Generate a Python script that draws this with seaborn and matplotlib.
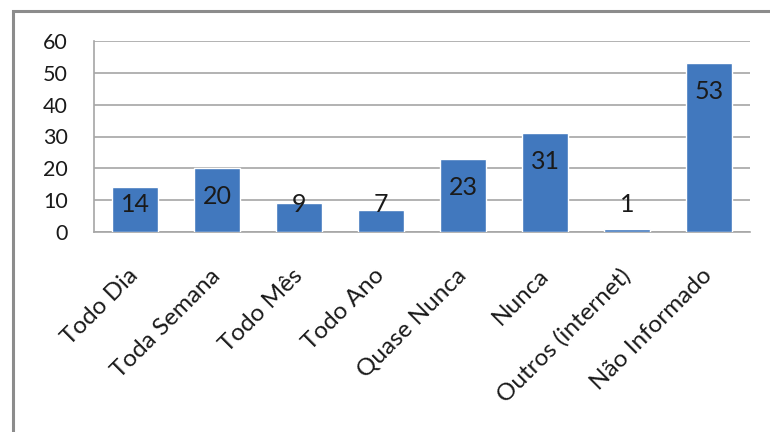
import matplotlib
matplotlib.use("Agg")
import matplotlib.pyplot as plt
import seaborn as sns
import pandas as pd
from matplotlib.patches import Rectangle

categories = ["Todo Dia", "Toda Semana", "Todo Mês", "Todo Ano",
              "Quase Nunca", "Nunca", "Outros (internet)", "Não Informado"]
values = [14, 20, 9, 7, 23, 31, 1, 53]
y_ticks = [0, 10, 20, 30, 40, 50, 60]

sns.set_theme(style="white")
plt.rcParams["font.family"] = ["Lato", "DejaVu Sans"]

df = pd.DataFrame({"categoria": categories, "valor": values})

fig = plt.figure(figsize=(7.7, 4.32), dpi=100)
ax = fig.add_axes([94 / 770, 1 - 232 / 432, (750 - 94) / 770, (232 - 41) / 432])

bar_color = "#4178BE"
sns.barplot(data=df, x="categoria", y="valor", color=bar_color, saturation=1,
            width=0.55, ax=ax, zorder=3)

ax.set_ylim(0, 60)
ax.set_xlim(-0.5, len(categories) - 0.5)
ax.set_yticks(y_ticks)
ax.set_xlabel("")
ax.set_ylabel("")
ax.yaxis.grid(True, color="#A6A6A6", linewidth=1.2, zorder=0)
ax.set_axisbelow(True)
for side in ("top", "right"):
    ax.spines[side].set_visible(False)
for side in ("left", "bottom"):
    ax.spines[side].set_color("#A6A6A6")
    ax.spines[side].set_linewidth(1.2)

text_color = "#1a1a1a"
ax.tick_params(axis="y", length=0, pad=19, labelsize=15.5, labelcolor=text_color)
ax.tick_params(axis="x", length=0, pad=29, labelsize=17.5, labelcolor=text_color)
for lbl in ax.get_xticklabels():
    lbl.set_rotation(45)
    lbl.set_ha("right")
    lbl.set_va("center")
    lbl.set_rotation_mode("anchor")

# value labels sit a little below each bar's top, never lower than the floor
for i, v in enumerate(values):
    ax.text(i, max(v - 9, 8.6), str(v), ha="center", va="center",
            fontsize=18, color=text_color, zorder=4)

# outer chart frame
fig.patches.append(Rectangle((13 / 770, -0.1), 1.2, 1 - 11 / 432 + 0.1,
                             transform=fig.transFigure, fill=False,
                             edgecolor="#8C8C8C", linewidth=2.2))

fig.savefig("out.png", dpi=100, facecolor="white")
